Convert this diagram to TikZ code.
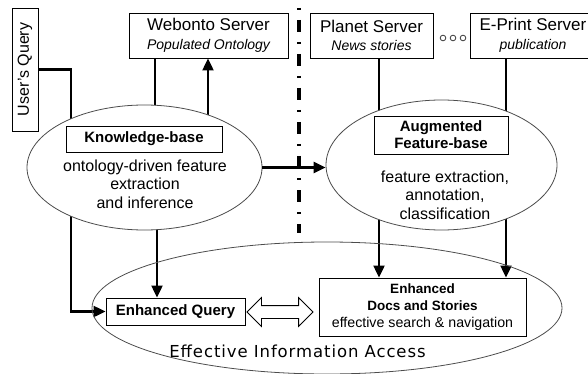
\documentclass[tikz,border=0pt]{standalone}
\usepackage{fontspec}
\setmainfont{Liberation Sans}
\newfontfamily\accessfont[LetterSpace=5.5]{DejaVu Sans}
\usetikzlibrary{arrows.meta,shapes.geometric,shapes.arrows,backgrounds}

\newcommand\srvfont{\fontsize{17}{18.5}\selectfont}
\newcommand\subfont{\fontsize{14}{18.5}\selectfont\itshape}
\newcommand\tagfont{\fontsize{15}{17}\selectfont\bfseries}
\newcommand\notefont{\fontsize{16}{18.4}\selectfont}
\newcommand\docfont{\fontsize{13.5}{17}\selectfont\bfseries}
\newcommand\docsubfont{\fontsize{14.2}{17}\selectfont\mdseries}

\begin{document}
\begin{tikzpicture}[x=1pt,y=-1pt,
  box/.style={draw,line width=0.9pt,fill=white,inner sep=0pt,align=center},
  bubble/.style={draw=black!70,line width=0.8pt,ellipse,inner sep=0pt},
  link/.style={line width=2.2pt},
  arr/.style={line width=2.2pt,-{Triangle[length=12pt,width=11pt]}}]
 \useasboundingbox (0,0) rectangle (588,374);

 % servers
 \node[box,font=\srvfont,minimum width=159pt,minimum height=45pt] (web) at (208.5,35.5) {Webonto Server\\\subfont Populated Ontology};
 \node[box,font=\srvfont,minimum width=123pt,minimum height=45pt] (planet) at (371.5,35.5) {Planet Server\\\subfont News stories};
 \node[box,font=\srvfont,minimum width=126pt,minimum height=45pt] (eprint) at (533,35.5) {E-Print Server\\\subfont publication};
 \foreach \x in {443,453,463} \draw[black!70,line width=0.9pt] (\x,38) circle (2.8pt);

 \node[box,rotate=90,minimum width=123pt,minimum height=26pt,font=\notefont] (uq) at (25,69.5) {User's Query};

 % dash-dot divider
 \draw[line width=3.2pt,dash pattern=on 2pt off 10pt on 12pt off 10pt] (299,8) -- (299,233);

 % knowledge side
 \node[bubble,fill=white,minimum width=235pt,minimum height=125pt] (kell) at (144.5,167.5) {};
 \node[box,minimum width=156pt,minimum height=26pt,font=\tagfont] (kb) at (144,139) {Knowledge-base};
 \node[align=center,font=\notefont] (kbnote) at (145,184) {ontology-driven feature\\extraction\\and inference};

 % feature side
 \node[bubble,fill=white,minimum width=231pt,minimum height=130pt] (fell) at (441.5,165) {};
 \node[box,minimum width=134pt,minimum height=38pt,font=\tagfont] (aug) at (441,135) {Augmented\\Feature-base};
 \node[align=center,font=\notefont] (augnote) at (445,195) {feature extraction,\\annotation,\\classification};

 % access
 \node[bubble,minimum width=470pt,minimum height=132pt] (access) at (327,308) {};
 \node[font=\accessfont\fontsize{16.5}{18}\selectfont] (accesstext) at (297.5,351) {Effective Information Access};
 \node[box,minimum width=139pt,minimum height=27pt,font=\tagfont] (eq) at (175.5,311.5) {Enhanced Query};
 \node[box,font=\docfont,minimum width=207pt,minimum height=58pt] (docs) at (422.5,307) {Enhanced\\Docs and Stories\\\docsubfont effective search \& navigation};
 \node[double arrow,draw,line width=0.8pt,inner sep=6pt,double arrow head extend=8pt,minimum height=66pt] (swap) at (280,312) {};

 % connectors
 \coordinate (qbend) at (71,200);
 \coordinate (webdown) at (155,0);
 \coordinate (webup) at (208,0);
 \coordinate (eqdrop) at (157,0);
 \coordinate (planetx) at (379,0);
 \coordinate (eprintx) at (506,0);
 \begin{scope}[on background layer]
  \draw[arr] (uq.south) -| (qbend) |- (eq.west);
  \draw[link] (web.south -| webdown) -- (kell.center -| webdown);
  \draw[arr] (kell.center -| webup) -- (web.south -| webup);
  \draw[arr] (kell.center -| eqdrop) -- (eq.north -| eqdrop);
  \draw[link] (planet.south -| planetx) -- (fell.center -| planetx);
  \draw[link] (eprint.south -| eprintx) -- (fell.center -| eprintx);
  \draw[arr] (fell.center -| planetx) -- (docs.north -| planetx);
  \draw[arr] (fell.center -| eprintx) -- (docs.north -| eprintx);
 \end{scope}
 \draw[arr] (kell.east) -- (kell.east -| fell.west);
\end{tikzpicture}
\end{document}
